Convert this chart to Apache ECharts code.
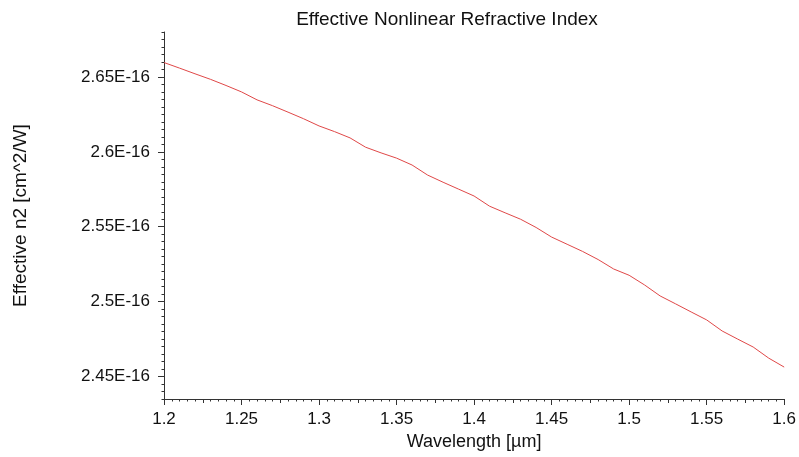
<!DOCTYPE html>
<html>
<head>
<meta charset="utf-8">
<title>Effective Nonlinear Refractive Index</title>
<script src="https://cdn.jsdelivr.net/npm/echarts@6/dist/echarts.min.js"></script>
<style>
  html, body { margin: 0; padding: 0; background: #fff; }
  #chart { width: 799px; height: 457px; }
</style>
</head>
<body>
<div id="chart"></div>
<script>
// wavelength in um
const wavelength = [
  1.20, 1.21, 1.22, 1.23, 1.24, 1.25, 1.26, 1.27, 1.28, 1.29,
  1.30, 1.31, 1.32, 1.33, 1.34, 1.35, 1.36, 1.37, 1.38, 1.39,
  1.40, 1.41, 1.42, 1.43, 1.44, 1.45, 1.46, 1.47, 1.48, 1.49,
  1.50, 1.51, 1.52, 1.53, 1.54, 1.55, 1.56, 1.57, 1.58, 1.59, 1.60
]
// effective n2, in units of 1E-16 cm^2/W
const n2 = [
  2.6596, 2.6559, 2.6521, 2.6484, 2.6443, 2.6400, 2.6347, 2.6308, 2.6265, 2.6221,
  2.6173, 2.6135, 2.6093, 2.6031, 2.5993, 2.5958, 2.5912, 2.5845, 2.5797, 2.5751,
  2.5705, 2.5637, 2.5593, 2.5550, 2.5495, 2.5431, 2.5383, 2.5335, 2.5281, 2.5218,
  2.5176, 2.5111, 2.5038, 2.4985, 2.4931, 2.4878, 2.4804, 2.4750, 2.4697, 2.4623, 2.4563
]
const yTickLabels = [2.45, 2.5, 2.55, 2.6, 2.65]

const FONT = 'Liberation Sans, Arial, sans-serif'
const AXIS_COLOR = '#333'
const TEXT_COLOR = '#111'

// minor tick positions for the y axis (every 0.005), and mid ticks on x
const yMinor = []
for (let i = 0; i <= 49; i++) yMinor.push(+(2.435 + i * 0.005).toFixed(3))
const xMid = []
for (let i = 0; i < 8; i++) xMid.push(+(1.225 + i * 0.05).toFixed(3))

const chart = echarts.init(document.getElementById('chart'))

chart.setOption({
  animation: false,
  backgroundColor: '#fff',
  title: {
    text: 'Effective Nonlinear Refractive Index',
    left: 442,
    textAlign: 'center',
    top: 5,
    textStyle: { fontFamily: FONT, fontSize: 19, fontWeight: 'normal', color: TEXT_COLOR }
  },
  grid: { left: 164, right: 13, top: 32, bottom: 58 },
  xAxis: [
    {
      type: 'value',
      min: 1.2,
      max: 1.6,
      interval: 0.05,
      name: 'Wavelength [µm]',
      nameLocation: 'middle',
      nameGap: 34,
      nameTextStyle: { fontFamily: FONT, fontSize: 18, color: TEXT_COLOR },
      axisLine: { show: true, lineStyle: { color: AXIS_COLOR, width: 1 } },
      axisTick: { show: true, length: 6, lineStyle: { color: AXIS_COLOR } },
      minorTick: { show: true, splitNumber: 10, length: 2.5, lineStyle: { color: AXIS_COLOR } },
      axisLabel: { fontFamily: FONT, fontSize: 17, color: TEXT_COLOR, margin: 12 },
      splitLine: { show: false },
      minorSplitLine: { show: false }
    },
    {
      type: 'value',
      position: 'bottom',
      min: 1.2,
      max: 1.6,
      axisLine: { show: false },
      axisLabel: { show: false },
      splitLine: { show: false },
      axisTick: { show: true, length: 4, customValues: xMid, lineStyle: { color: AXIS_COLOR } }
    }
  ],
  yAxis: [
    {
      type: 'value',
      min: 2.435,
      max: 2.68,
      name: 'Effective n2 [cm^2/W]',
      nameLocation: 'middle',
      nameGap: 134,
      nameTextStyle: { fontFamily: FONT, fontSize: 19, color: TEXT_COLOR },
      axisLine: { show: true, lineStyle: { color: AXIS_COLOR, width: 1 } },
      axisTick: { show: true, length: 6, customValues: yTickLabels, lineStyle: { color: AXIS_COLOR } },
      axisLabel: {
        fontFamily: FONT,
        fontSize: 17,
        color: TEXT_COLOR,
        margin: 14,
        customValues: yTickLabels,
        formatter: v => parseFloat(v.toFixed(3)) + 'E-16'
      },
      splitLine: { show: false }
    },
    {
      type: 'value',
      position: 'left',
      min: 2.435,
      max: 2.68,
      axisLine: { show: false },
      axisLabel: { show: false },
      splitLine: { show: false },
      axisTick: { show: true, length: 2.5, customValues: yMinor, lineStyle: { color: AXIS_COLOR } }
    }
  ],
  series: [
    {
      type: 'line',
      xAxisIndex: 0,
      yAxisIndex: 0,
      data: wavelength.map((w, i) => [w, n2[i]]),
      showSymbol: false,
      symbol: 'none',
      lineStyle: { color: '#e04848', width: 1 },
      itemStyle: { color: '#e04848' }
    }
  ]
})
</script>
</body>
</html>
